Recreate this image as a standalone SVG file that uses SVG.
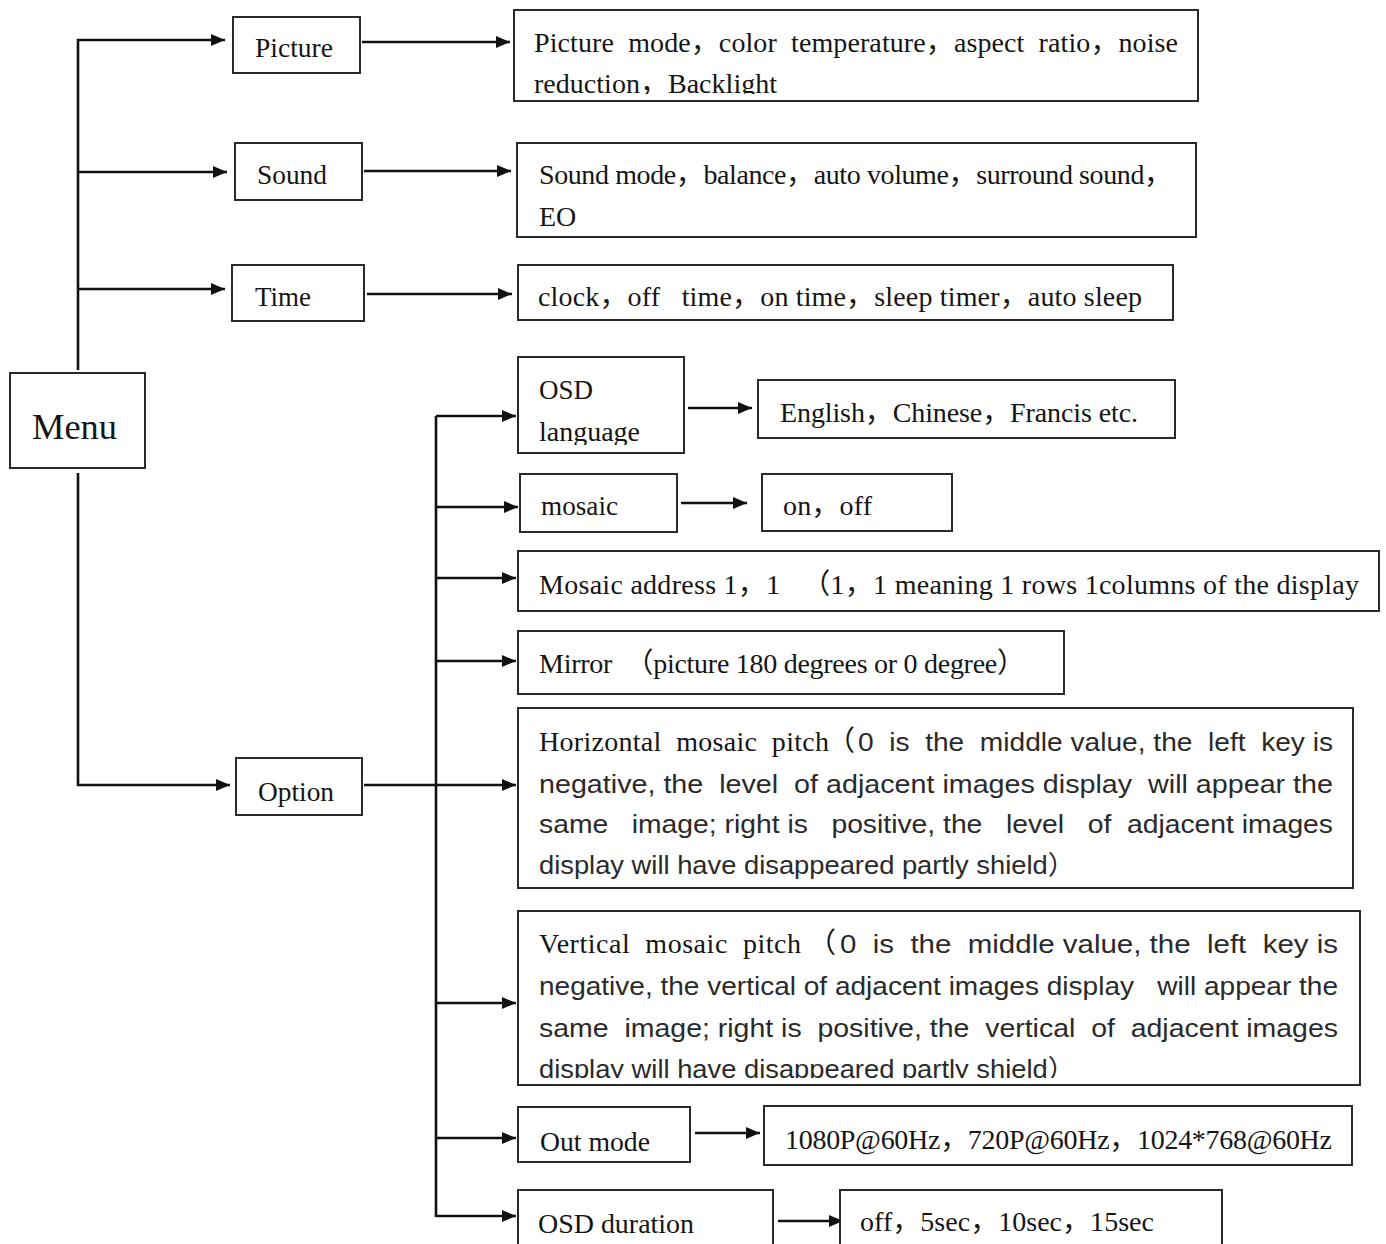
<svg xmlns="http://www.w3.org/2000/svg" width="1386" height="1244" viewBox="0 0 1386 1244">
<style>
.box{fill:#fff;stroke:#2a2a2a;stroke-width:2}
.ln{stroke:#111;stroke-width:2.6;fill:none}
.t{font-family:"Liberation Serif","Noto Sans CJK SC",serif;font-size:28px;fill:#151515}
.s{font-family:"Liberation Sans","Noto Sans CJK SC",sans-serif;font-size:26px;fill:#2a2a2a}
</style>
<defs>
<marker id="ah" markerUnits="userSpaceOnUse" markerWidth="14" markerHeight="12" refX="14" refY="6" orient="auto">
<path d="M0,0 L14,6 L0,12 z" fill="#111"/>
</marker>
<clipPath id="c1"><rect x="514" y="10" width="684" height="84"/></clipPath>
<clipPath id="c2"><rect x="518" y="357" width="166" height="88"/></clipPath>
<clipPath id="c3"><rect x="518" y="911" width="842" height="167"/></clipPath>
</defs>
<rect width="1386" height="1244" fill="#fff"/>
<g id="connectors">
<path class="ln" d="M78,370 V40 H225" marker-end="url(#ah)"/>
<path class="ln" d="M78,172 H227" marker-end="url(#ah)"/>
<path class="ln" d="M78,289 H225" marker-end="url(#ah)"/>
<path class="ln" d="M78,473 V785 H230" marker-end="url(#ah)"/>
<path class="ln" d="M362,42 H510" marker-end="url(#ah)"/>
<path class="ln" d="M364,171 H511" marker-end="url(#ah)"/>
<path class="ln" d="M367,294 H512" marker-end="url(#ah)"/>
<path class="ln" d="M364,785 H516" marker-end="url(#ah)"/>
<path class="ln" d="M436,416 V1217"/>
<path class="ln" d="M436,416 H516" marker-end="url(#ah)"/>
<path class="ln" d="M436,507 H518" marker-end="url(#ah)"/>
<path class="ln" d="M436,578 H516" marker-end="url(#ah)"/>
<path class="ln" d="M436,661 H516" marker-end="url(#ah)"/>
<path class="ln" d="M436,1003 H516" marker-end="url(#ah)"/>
<path class="ln" d="M436,1138 H516" marker-end="url(#ah)"/>
<path class="ln" d="M436,1216 H516" marker-end="url(#ah)"/>
<path class="ln" d="M688,408 H752" marker-end="url(#ah)"/>
<path class="ln" d="M681,503 H747" marker-end="url(#ah)"/>
<path class="ln" d="M695,1133 H760" marker-end="url(#ah)"/>
<path class="ln" d="M778,1221 H843" marker-end="url(#ah)"/>
</g>
<g id="menu">
<rect class="box" x="10" y="373" width="135" height="95"/>
<text class="t" x="32" y="439" style="font-size:36px" textLength="85" lengthAdjust="spacingAndGlyphs">Menu</text>
</g>
<g id="picture">
<rect class="box" x="233" y="17" width="127" height="56"/>
<text class="t" x="255" y="57" textLength="78" lengthAdjust="spacingAndGlyphs">Picture</text>
</g>
<g id="picture-desc">
<rect class="box" x="514" y="10" width="684" height="91"/>
<text class="t" x="534" y="52" xml:space="preserve" textLength="644" lengthAdjust="spacing">Picture  mode，color  temperature，aspect  ratio，noise</text>
<text class="t" x="534" y="93" clip-path="url(#c1)" textLength="243">reduction，Backlight</text>
</g>
<g id="sound">
<rect class="box" x="235" y="143" width="127" height="57"/>
<text class="t" x="257" y="184" textLength="70" lengthAdjust="spacingAndGlyphs">Sound</text>
</g>
<g id="sound-desc">
<rect class="box" x="517" y="143" width="679" height="94"/>
<text class="t" x="539" y="184" textLength="633">Sound mode，balance，auto volume，surround sound，</text>
<text class="t" x="539" y="226">EO</text>
</g>
<g id="time">
<rect class="box" x="232" y="265" width="132" height="56"/>
<text class="t" x="255" y="306" textLength="56" lengthAdjust="spacingAndGlyphs">Time</text>
</g>
<g id="time-desc">
<rect class="box" x="518" y="265" width="655" height="55"/>
<text class="t" x="538" y="306" xml:space="preserve" textLength="604">clock，off   time，on time，sleep timer，auto sleep</text>
</g>
<g id="option">
<rect class="box" x="236" y="758" width="126" height="57"/>
<text class="t" x="258" y="801" textLength="76" lengthAdjust="spacingAndGlyphs">Option</text>
</g>
<g id="osd-language">
<rect class="box" x="518" y="357" width="166" height="96"/>
<text class="t" x="539" y="399" textLength="54" lengthAdjust="spacingAndGlyphs">OSD</text>
<text class="t" x="539" y="441" clip-path="url(#c2)" textLength="101" lengthAdjust="spacingAndGlyphs">language</text>
</g>
<g id="osd-language-desc">
<rect class="box" x="758" y="380" width="417" height="58"/>
<text class="t" x="780" y="422" textLength="358">English，Chinese，Francis etc.</text>
</g>
<g id="mosaic">
<rect class="box" x="520" y="474" width="157" height="58"/>
<text class="t" x="541" y="515" textLength="77" lengthAdjust="spacingAndGlyphs">mosaic</text>
</g>
<g id="mosaic-desc">
<rect class="box" x="762" y="474" width="190" height="57"/>
<text class="t" x="783" y="515" textLength="89">on，off</text>
</g>
<g id="mosaic-address">
<rect class="box" x="518" y="551" width="861" height="60"/>
<text class="t" x="539" y="594" xml:space="preserve" textLength="820">Mosaic address 1，1   （1，1 meaning 1 rows 1columns of the display</text>
</g>
<g id="mirror">
<rect class="box" x="518" y="631" width="546" height="63"/>
<text class="t" x="539" y="673" xml:space="preserve" textLength="486">Mirror  （picture 180 degrees or 0 degree）</text>
</g>
<g id="horizontal-pitch">
<rect class="box" x="518" y="708" width="835" height="180"/>
<text class="t" x="539" y="751" xml:space="preserve" textLength="290">Horizontal  mosaic  pitch</text>
<text class="t" x="827" y="751">（</text>
<text class="s" x="858" y="751" xml:space="preserve" textLength="475" lengthAdjust="spacingAndGlyphs">0  is  the  middle value, the  left  key is</text>
<text class="s" x="539" y="793" xml:space="preserve" textLength="794" lengthAdjust="spacingAndGlyphs">negative, the  level  of adjacent images display  will appear the</text>
<text class="s" x="539" y="833" xml:space="preserve" textLength="794" lengthAdjust="spacingAndGlyphs">same   image; right is   positive, the   level   of  adjacent images</text>
<text class="s" x="539" y="874" textLength="536" lengthAdjust="spacingAndGlyphs">display will have disappeared partly shield）</text>
</g>
<g id="vertical-pitch">
<rect class="box" x="518" y="911" width="842" height="174"/>
<text class="t" x="539" y="953" xml:space="preserve" textLength="262">Vertical  mosaic  pitch</text>
<text class="t" x="808" y="953">（</text>
<text class="s" x="840" y="953" xml:space="preserve" textLength="498" lengthAdjust="spacingAndGlyphs">0  is  the  middle value, the  left  key is</text>
<text class="s" x="539" y="995" xml:space="preserve" textLength="799" lengthAdjust="spacingAndGlyphs">negative, the vertical of adjacent images display   will appear the</text>
<text class="s" x="539" y="1037" xml:space="preserve" textLength="799" lengthAdjust="spacingAndGlyphs">same  image; right is  positive, the  vertical  of  adjacent images</text>
<text class="s" x="539" y="1078" clip-path="url(#c3)" textLength="536" lengthAdjust="spacingAndGlyphs">display will have disappeared partly shield）</text>
</g>
<g id="out-mode">
<rect class="box" x="518" y="1107" width="172" height="55"/>
<text class="t" x="540" y="1151" textLength="110" lengthAdjust="spacingAndGlyphs">Out mode</text>
</g>
<g id="out-mode-desc">
<rect class="box" x="764" y="1106" width="588" height="59"/>
<text class="t" x="785" y="1149" textLength="547">1080P@60Hz，720P@60Hz，1024*768@60Hz</text>
</g>
<g id="osd-duration">
<rect class="box" x="518" y="1190" width="255" height="70"/>
<text class="t" x="538" y="1233" textLength="156" lengthAdjust="spacingAndGlyphs">OSD duration</text>
</g>
<g id="osd-duration-desc">
<rect class="box" x="840" y="1190" width="382" height="70"/>
<text class="t" x="860" y="1231" textLength="294">off，5sec，10sec，15sec</text>
</g>
</svg>
